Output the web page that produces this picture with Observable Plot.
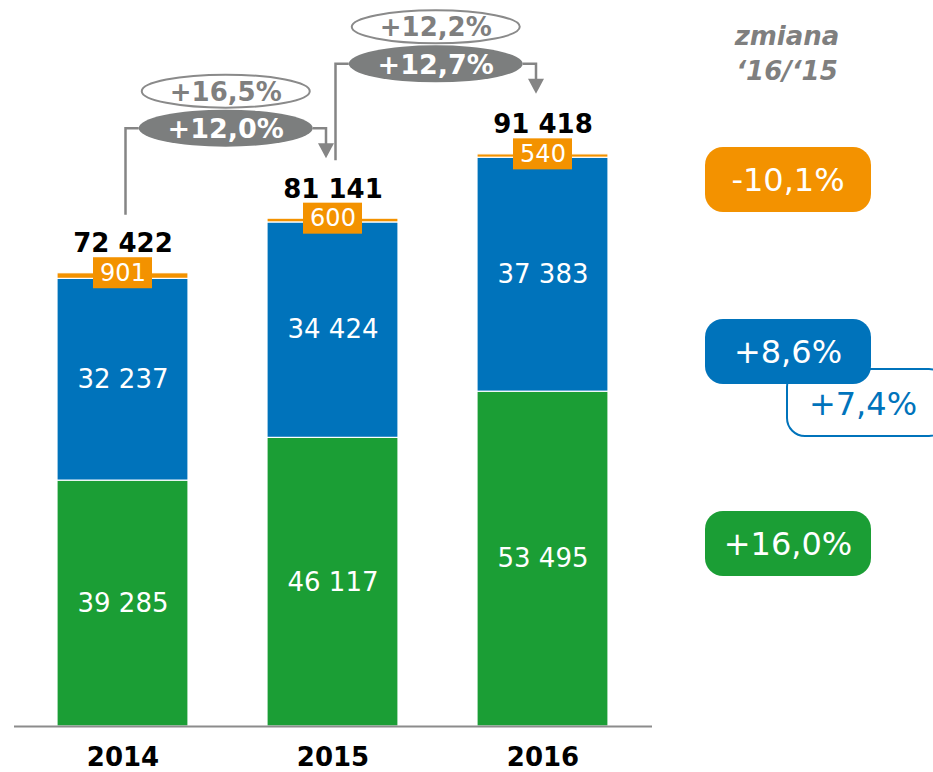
<!DOCTYPE html>
<html><head><meta charset="utf-8">
<script src="https://cdn.jsdelivr.net/npm/d3@7"></script>
<script src="https://cdn.jsdelivr.net/npm/@observablehq/plot@0.6"></script>
<style>body{margin:0;background:#fff}svg{display:block}</style>
</head><body><div id="chart"></div>
<script>
const years = ["2014", "2015", "2016"];
const greenValues = [39285, 46117, 53495];
const blueValues = [32237, 34424, 37383];
const orangeValues = [901, 600, 540];
const totals = [72422, 81141, 91418];
const growthDark = ["+12,0%", "+12,7%"];
const growthLight = ["+16,5%", "+12,2%"];
const changeHeader = ["zmiana", "‘16/‘15"];
const changeLabels = ["-10,1%", "+8,6%", "+16,0%"];
const changeExtra = "+7,4%";

const C = {green: "#1b9e35", blue: "#0073bb", orange: "#f39200", gray: "#7c7e7e", lightGray: "#8a8a8a"};
const FONT = "DejaVu Sans";
const fmt = v => d3.format(",")(v).replace(/,/g, " ");

const rows = years.flatMap((year, i) => [
  {year, series: "g", value: greenValues[i], mid: greenValues[i] / 2},
  {year, series: "b", value: blueValues[i], mid: greenValues[i] + blueValues[i] / 2},
  {year, series: "o", value: orangeValues[i], mid: totals[i]}
]);
const tot = years.map((year, i) => ({year, total: totals[i], orange: orangeValues[i]}));

const chart = Plot.plot({
  width: 933, height: 772,
  marginTop: 0, marginBottom: 46, marginLeft: 14, marginRight: 281,
  style: {fontFamily: FONT, background: "white"},
  x: {domain: years, paddingInner: 0.374, paddingOuter: 0.2, axis: null},
  y: {domain: [0, 116000], axis: null},
  color: {domain: ["g", "b", "o"], range: [C.green, C.blue, C.orange]},
  marks: [
    Plot.barY(rows, {x: "year", y: "value", fill: "series", stroke: "white", strokeWidth: 1.2}),
    Plot.ruleY([0], {stroke: "#8c8c8c", strokeWidth: 2}),
    Plot.text(rows.filter(d => d.series !== "o"), {x: "year", y: "mid", text: d => fmt(d.value), fill: "white", fontSize: 26}),
    Plot.barY(tot, {x: "year", y1: "total", y2: "total", fill: C.orange, insetLeft: 36, insetRight: 36, insetTop: -15.5, insetBottom: -15.5}),
    Plot.text(tot, {x: "year", y: "total", text: d => fmt(d.orange), fill: "white", fontSize: 24}),
    Plot.text(tot, {x: "year", y: "total", text: d => fmt(d.total), fill: "black", fontSize: 26, fontWeight: "bold", lineAnchor: "bottom", dy: -21}),
    Plot.text(years, {x: d => d, y: () => 0, text: d => d, fill: "black", fontSize: 26, fontWeight: "bold", lineAnchor: "top", dy: 21})
  ]
});
document.getElementById("chart").appendChild(chart);

const svg = d3.select(chart);
const sx = chart.scale("x"), sy = chart.scale("y");
const cx = yr => sx.apply(yr) + sx.bandwidth / 2;
const g = svg.append("g").attr("font-family", FONT);

// growth annotations between bars
for (let i = 0; i < 2; i++) {
  const a = years[i], b = years[i + 1];
  const oy = sy.apply(totals[i + 1]) - 90;
  const lx = cx(a) + 3, rX = cx(b) - 6.5;
  const ox = (lx + rX) / 2;
  const rxD = 87, ryD = 18.5;
  const bottom = sy.apply(totals[i]) - 58;
  const tip = sy.apply(totals[i + 1]) - 60;
  g.append("path").attr("d", `M${lx},${bottom}V${oy}H${ox - rxD}`).attr("fill", "none").attr("stroke", "#858585").attr("stroke-width", 2.5);
  g.append("path").attr("d", `M${ox + rxD},${oy}H${rX}V${tip - 14}`).attr("fill", "none").attr("stroke", "#858585").attr("stroke-width", 2.5);
  g.append("path").attr("d", `M${rX - 8},${tip - 15}L${rX + 8},${tip - 15}L${rX},${tip}Z`).attr("fill", "#858585");
  // light oval
  g.append("ellipse").attr("cx", ox).attr("cy", oy - 37).attr("rx", 84).attr("ry", 16.5)
    .attr("fill", "white").attr("stroke", C.lightGray).attr("stroke-width", 2);
  g.append("text").attr("x", ox).attr("y", oy - 37).attr("dy", "0.36em").attr("text-anchor", "middle")
    .attr("font-size", 26).attr("font-weight", "bold").attr("fill", "#7f7f7f").text(growthLight[i]);
  // dark oval
  g.append("ellipse").attr("cx", ox).attr("cy", oy).attr("rx", rxD).attr("ry", ryD).attr("fill", C.gray);
  g.append("text").attr("x", ox).attr("y", oy).attr("dy", "0.36em").attr("text-anchor", "middle")
    .attr("font-size", 27).attr("font-weight", "bold").attr("fill", "white").text(growthDark[i]);
}

// right side header
changeHeader.forEach((t, i) => {
  g.append("text").attr("x", 787).attr("y", 45 + i * 35).attr("text-anchor", "middle")
    .attr("font-size", 26).attr("font-weight", "bold").attr("font-style", "italic").attr("fill", "#7f7f7f").text(t);
});

// outlined extra badge (behind)
g.append("rect").attr("x", 787).attr("y", 369).attr("width", 160).attr("height", 67).attr("rx", 18)
  .attr("fill", "white").attr("stroke", C.blue).attr("stroke-width", 2);
g.append("text").attr("x", 863).attr("y", 403).attr("dy", "0.36em").attr("text-anchor", "middle")
  .attr("font-size", 32).attr("fill", C.blue).text(changeExtra);

// filled badges
const badgeColors = [C.orange, C.blue, C.green];
const badgeY = [147, 319, 511];
changeLabels.forEach((t, i) => {
  g.append("rect").attr("x", 705).attr("y", badgeY[i]).attr("width", 166).attr("height", 65).attr("rx", 18).attr("fill", badgeColors[i]);
  g.append("text").attr("x", 788).attr("y", badgeY[i] + 32.5).attr("dy", "0.36em").attr("text-anchor", "middle")
    .attr("font-size", 32).attr("fill", "white").text(t);
});
</script>
</body></html>
